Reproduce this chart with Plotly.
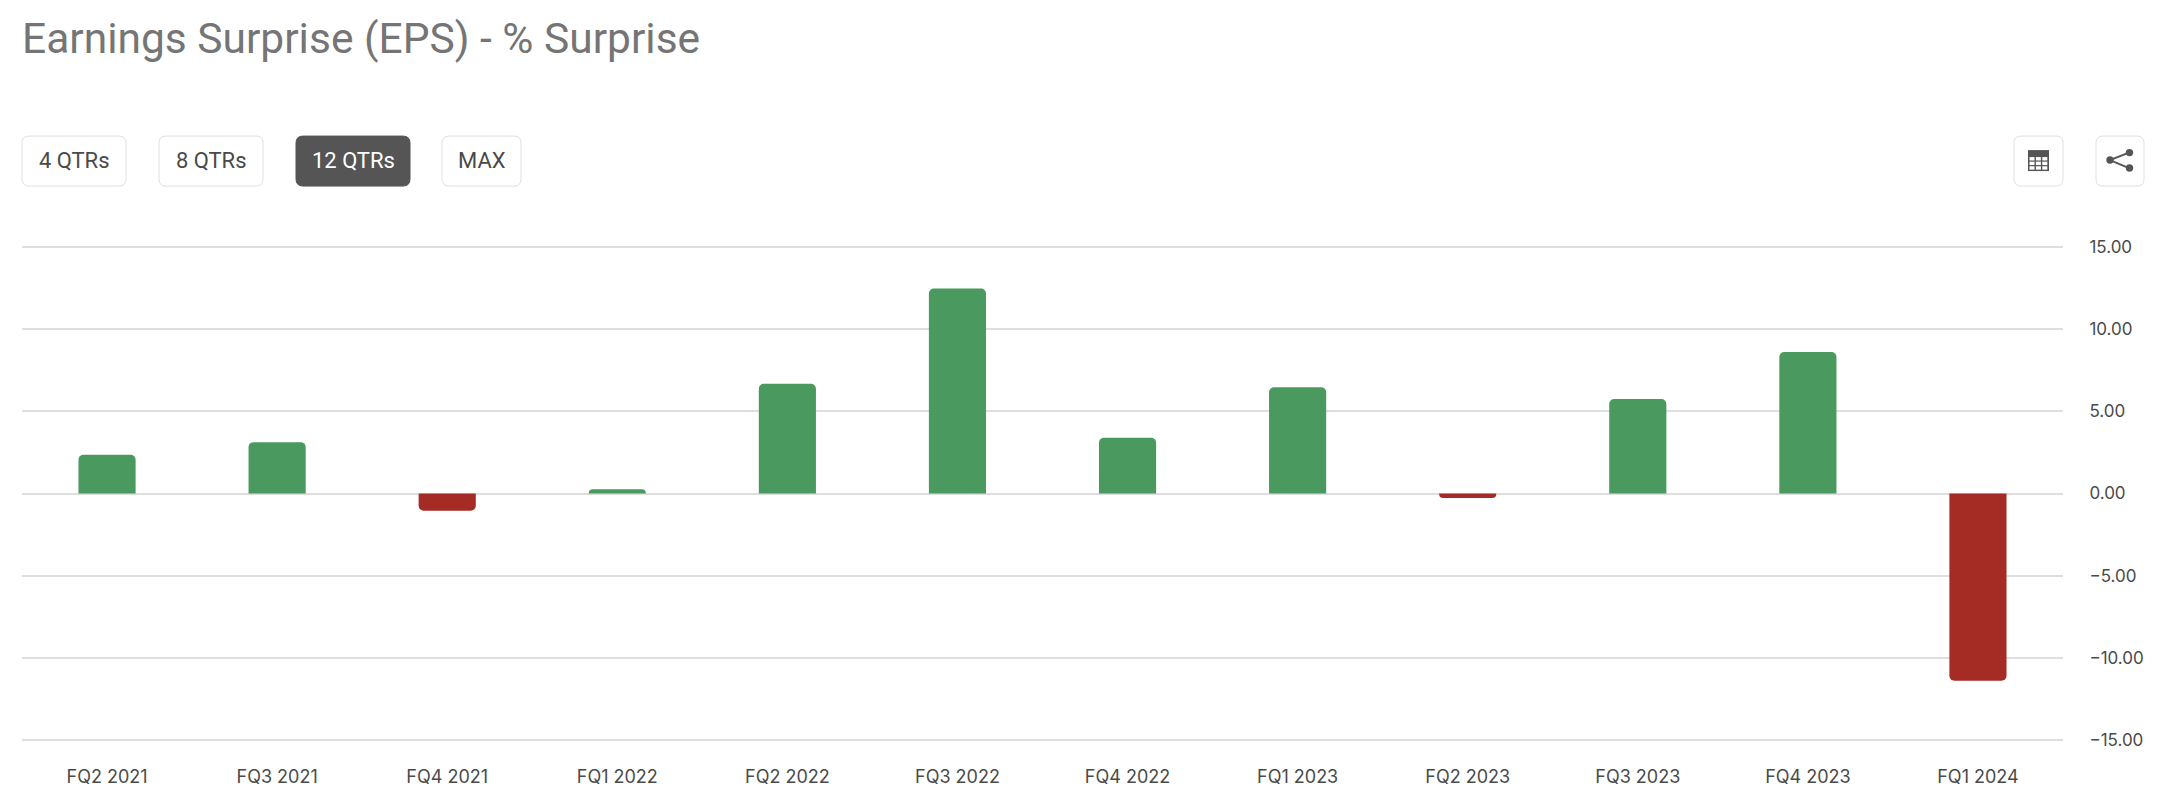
import plotly.graph_objects as go

W, H = 2170, 810
M_L, M_R, M_T, M_B = 22, 107, 245.0, 67.6

quarters = ["FQ2 2021", "FQ3 2021", "FQ4 2021", "FQ1 2022", "FQ2 2022", "FQ3 2022",
            "FQ4 2022", "FQ1 2023", "FQ2 2023", "FQ3 2023", "FQ4 2023", "FQ1 2024"]
surprise = [2.35, 3.12, -1.05, 0.26, 6.67, 12.45, 3.39, 6.45, -0.28, 5.74, 8.6, -11.38]
y_ticks = [15, 10, 5, 0, -5, -10, -15]
title_text = "Earnings Surprise (EPS) - % Surprise"
button_labels = ["4 QTRs", "8 QTRs", "12 QTRs", "MAX"]
button_spans = [(22, 126), (159, 263), (296, 410), (442, 521)]
active_button = "12 QTRs"

GREEN, RED = "#4a9a60", "#a52c24"
FONT = "Inter"
HEAD_FONT = "Roboto"
BORDER = "#e0e0e0"
DARK = "#555555"


def px(x):
    return (x - M_L) / (W - M_L - M_R)


def py(y):
    return (H - M_B - y) / (H - M_T - M_B)


def round_rect(x0, y0, x1, y1, r):
    return (f"M {px(x0 + r)} {py(y0)} L {px(x1 - r)} {py(y0)} Q {px(x1)} {py(y0)} {px(x1)} {py(y0 + r)} "
            f"L {px(x1)} {py(y1 - r)} Q {px(x1)} {py(y1)} {px(x1 - r)} {py(y1)} "
            f"L {px(x0 + r)} {py(y1)} Q {px(x0)} {py(y1)} {px(x0)} {py(y1 - r)} "
            f"L {px(x0)} {py(y0 + r)} Q {px(x0)} {py(y0)} {px(x0 + r)} {py(y0)} Z")


shapes, annotations = [], []
BTN_TOP, BTN_BOT = 136, 186

for label, (x0, x1) in zip(button_labels, button_spans):
    active = label == active_button
    shapes.append(dict(type="path", xref="paper", yref="paper",
                       path=round_rect(x0, BTN_TOP, x1, BTN_BOT, 7),
                       fillcolor=DARK if active else "#ffffff",
                       line=dict(color=DARK if active else BORDER, width=1)))
    annotations.append(dict(text=label, xref="paper", yref="paper",
                            x=px((x0 + x1) / 2), y=py(160.5), xanchor="center", yanchor="middle",
                            showarrow=False,
                            font=dict(family=HEAD_FONT, size=22, color="#ffffff" if active else "#4a4a4a")))

# Table and share icon buttons
for x0, x1 in [(2014, 2063), (2096, 2144)]:
    shapes.append(dict(type="path", xref="paper", yref="paper",
                       path=round_rect(x0, BTN_TOP, x1, BTN_BOT, 7),
                       fillcolor="#ffffff", line=dict(color=BORDER, width=1)))

# Table icon
shapes.append(dict(type="rect", xref="paper", yref="paper", x0=px(2028), x1=px(2049), y0=py(150), y1=py(171),
                   fillcolor=DARK, line_width=0))
for r in range(3):
    for c in range(3):
        cx = 2029.5 + c * 6.4
        cy = 157 + r * 4.6
        shapes.append(dict(type="rect", xref="paper", yref="paper",
                           x0=px(cx), x1=px(cx + 5.0), y0=py(cy), y1=py(cy + 3.4),
                           fillcolor="#ffffff", line_width=0))

# Share icon
shapes.append(dict(type="path", xref="paper", yref="paper",
                   path=f"M {px(2129)} {py(152.5)} L {px(2110)} {py(160)} L {px(2129)} {py(168)}",
                   line=dict(color=DARK, width=2)))
for cx, cy, r in [(2129.5, 152.5, 3.7), (2110, 160, 3.7), (2129.5, 168, 3.7)]:
    shapes.append(dict(type="circle", xref="paper", yref="paper",
                       x0=px(cx - r), x1=px(cx + r), y0=py(cy - r), y1=py(cy + r),
                       fillcolor=DARK, line_width=0))

fig = go.Figure(go.Bar(
    x=quarters, y=surprise,
    width=0.336,
    marker=dict(color=[GREEN if v >= 0 else RED for v in surprise], cornerradius=5, line_width=0),
    hoverinfo="x+y",
))

fig.update_layout(
    width=W, height=H,
    margin=dict(l=M_L, r=M_R, t=M_T, b=M_B, pad=0),
    paper_bgcolor="#ffffff", plot_bgcolor="#ffffff",
    showlegend=False,
    title=dict(text=title_text, x=px(22), xanchor="left", xref="paper", y=1 - 38 / H, yanchor="middle",
               yref="container", font=dict(family=HEAD_FONT, size=42.5, color="#757575", weight=400)),
    shapes=shapes, annotations=annotations,
    font=dict(family=FONT),
    xaxis=dict(type="category", showgrid=False, zeroline=False, showline=False,
               ticks="outside", ticklen=18, tickcolor="rgba(0,0,0,0)",
               tickfont=dict(family=FONT, size=18, color="#4a4a4a")),
    yaxis=dict(side="right", range=[-15.1, 15.1], tickvals=y_ticks, tickformat=".2f",
               showgrid=True, gridcolor="#dedede", gridwidth=2,
               zeroline=True, zerolinecolor="#dedede", zerolinewidth=2, showline=False,
               ticks="outside", ticklen=22, tickcolor="rgba(0,0,0,0)",
               tickfont=dict(family=FONT, size=17, color="#4a4a4a")),
)

fig.write_html("out.html", post_script="document.body.style.margin='0';document.body.style.overflow='hidden';",
               config=dict(displayModeBar=False))
